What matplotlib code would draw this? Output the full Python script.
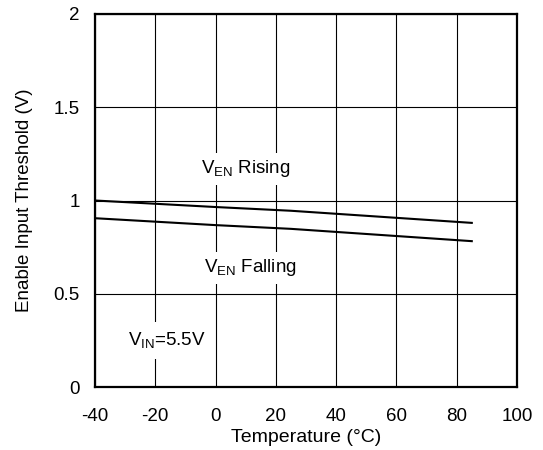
import matplotlib
matplotlib.use("Agg")
import matplotlib.pyplot as plt

plt.rcParams['font.family'] = ['Liberation Sans', 'DejaVu Sans']
plt.rcParams['axes.unicode_minus'] = False

temp = [-40, 0, 25, 85]
rising = [1.0, 0.965, 0.945, 0.88]
falling = [0.905, 0.868, 0.848, 0.782]

xticks = [-40, -20, 0, 20, 40, 60, 80, 100]
yticks = [0, 0.5, 1, 1.5, 2]
yticklabels = ['0', '0.5', '1', '1.5', '2']

fig = plt.figure(figsize=(5.43, 4.5), dpi=100)
ax = fig.add_axes([95/543, 63/450, 422/543, 373/450])

ax.set_xlim(-40, 100)
ax.set_ylim(0, 2)
ax.set_xticks(xticks)
ax.set_yticks(yticks)
ax.set_yticklabels(yticklabels)
ax.grid(True, color='black', linewidth=0.8)
ax.set_axisbelow(True)
ax.tick_params(length=0, labelsize=13.5, colors='black')
ax.tick_params(axis='x', pad=15)
ax.tick_params(axis='y', pad=11)
for s in ax.spines.values():
    s.set_linewidth(1.6)
    s.set_color('black')

ax.plot(temp, rising, color='black', linewidth=1.5)
ax.plot(temp, falling, color='black', linewidth=1.5)

box = dict(facecolor='white', edgecolor='none', pad=4)
ax.text(10, 1.17, r'V$_{\mathregular{EN}}$ Rising', ha='center', va='center',
        fontsize=13.5, bbox=box)
ax.text(11.5, 0.64, r'V$_{\mathregular{EN}}$ Falling', ha='center', va='center',
        fontsize=13.5, bbox=box)
ax.text(-16, 0.25, r'V$_{\mathregular{IN}}$=5.5V', ha='center', va='center',
        fontsize=13.5, bbox=dict(facecolor='white', edgecolor='none', pad=6))

ax.set_xlabel('Temperature (°C)', fontsize=14, labelpad=3)
ax.set_ylabel('Enable Input Threshold (V)', fontsize=13.5, labelpad=15)

fig.savefig('out.png', dpi=100)
